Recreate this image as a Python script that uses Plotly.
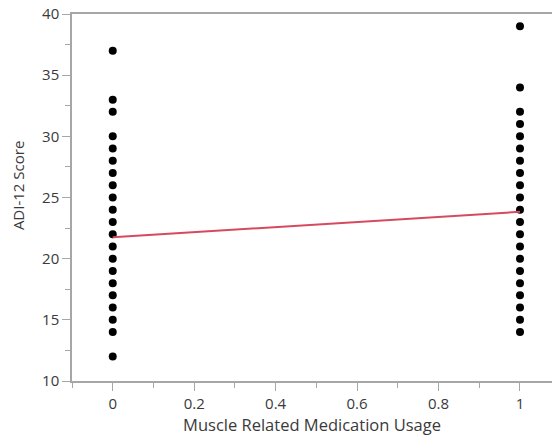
import plotly.graph_objects as go

# Data
scores_no_med = [37, 33, 32, 30, 29, 28, 27, 26, 25, 24, 23, 22, 21, 20, 19, 18, 17, 16, 15, 14, 12]
scores_med = [39, 34, 32, 31, 30, 29, 28, 27, 26, 25, 24, 23, 22, 21, 20, 19, 18, 17, 16, 15, 14]
fit_x = [0, 1]
fit_y = [21.75, 23.83]

x_ticks = [0, 0.2, 0.4, 0.6, 0.8, 1]
x_ticklabels = ["0", "0.2", "0.4", "0.6", "0.8", "1"]
y_ticks = [10, 15, 20, 25, 30, 35, 40]

FONT = "Open Sans, Segoe UI, sans-serif"
TXT = "#3a3a3a"
AX = "#a6a6a6"

fig = go.Figure()
fig.add_trace(go.Scatter(
    x=[0] * len(scores_no_med) + [1] * len(scores_med),
    y=scores_no_med + scores_med,
    mode="markers",
    marker=dict(color="black", size=8),
    showlegend=False,
    cliponaxis=False,
))
fig.add_trace(go.Scatter(
    x=fit_x, y=fit_y, mode="lines",
    line=dict(color="#d64a5f", width=2),
    showlegend=False,
))

fig.update_layout(
    width=552, height=439,
    margin=dict(l=72, r=0, t=14, b=58, autoexpand=False),
    paper_bgcolor="white", plot_bgcolor="white",
    font=dict(family=FONT, color=TXT, size=14),
    xaxis=dict(
        range=[-0.1, 1.0786],
        tickvals=x_ticks, ticktext=x_ticklabels,
        ticks="outside", ticklen=8, tickcolor=AX, tickwidth=1,
        minor=dict(dtick=0.1, tick0=0, ticks="outside", ticklen=5, tickcolor=AX),
        showline=True, linecolor=AX, linewidth=1.5, mirror=True,
        showgrid=False, zeroline=False,
        tickfont=dict(size=15, family=FONT, color=TXT),
        ticklabeloverflow="allow",
        title=dict(text="Muscle Related Medication Usage", font=dict(size=16.5, family=FONT, color=TXT), standoff=8),
    ),
    yaxis=dict(
        range=[10, 40],
        tickvals=y_ticks,
        ticks="outside", ticklen=8, tickcolor=AX, tickwidth=1,
        minor=dict(dtick=2.5, tick0=10, ticks="outside", ticklen=5, tickcolor=AX),
        showline=True, linecolor=AX, linewidth=1.5,
        showgrid=False, zeroline=False,
        tickfont=dict(size=15, family=FONT, color=TXT),
        ticklabeloverflow="allow",
    ),
    annotations=[dict(
        text="ADI-12 Score", textangle=-90,
        xref="paper", yref="paper", x=-0.1125, y=0.531,
        xanchor="center", yanchor="middle", showarrow=False,
        font=dict(size=15, family=FONT, color=TXT),
    )],
)

fig.write_html(
    "out.html",
    config={"displayModeBar": False},
    post_script="document.body.style.margin='0';document.body.style.overflow='hidden';",
)
